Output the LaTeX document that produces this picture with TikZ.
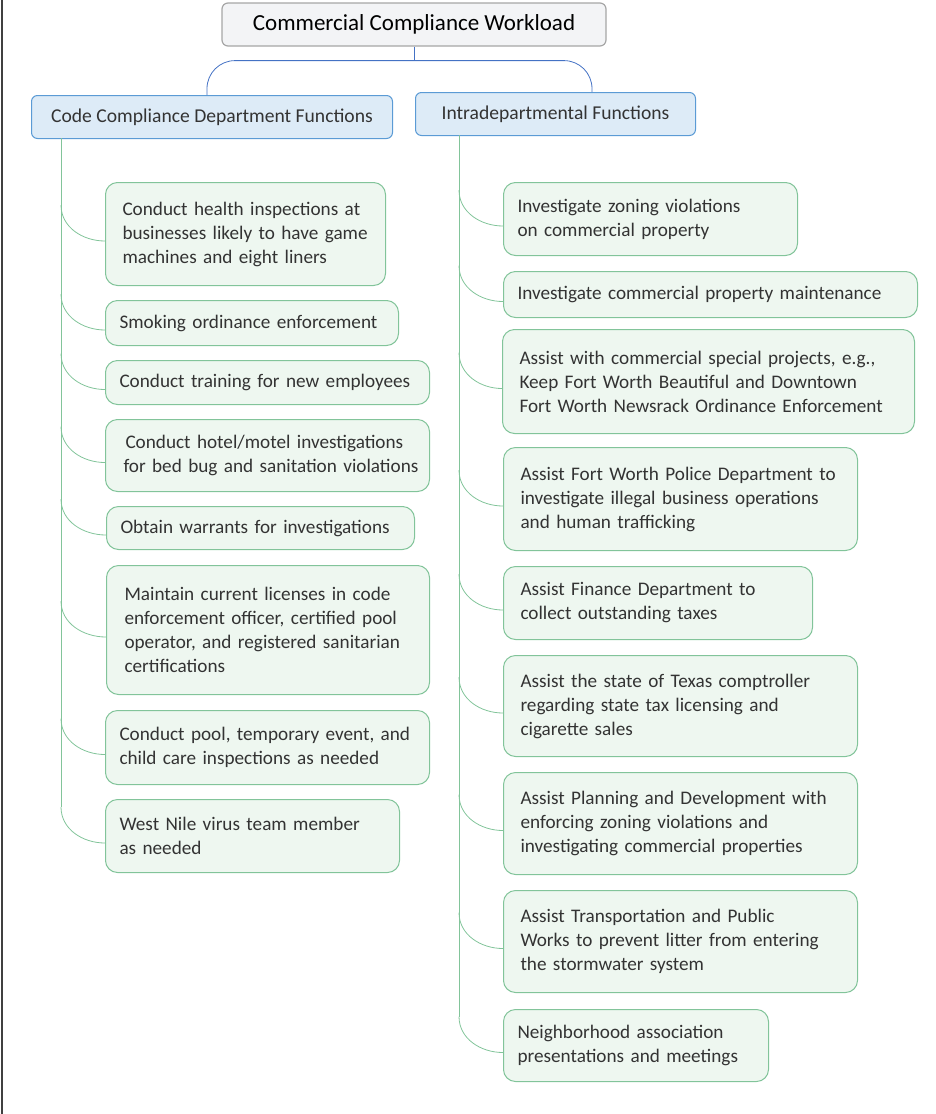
\documentclass[tikz,border=0pt]{standalone}
\usepackage{fontspec}
\setmainfont{Carlito}
\usetikzlibrary{calc}

\definecolor{leafline}{HTML}{82C49A}
\definecolor{leaffill}{HTML}{EEF7F0}
\definecolor{headline}{HTML}{5B9BD5}
\definecolor{headfill}{HTML}{DDEBF7}
\definecolor{rootline}{HTML}{A6A6A6}
\definecolor{rootfill}{HTML}{F3F4F6}
\definecolor{ink}{HTML}{333333}
\definecolor{branch}{HTML}{4472C4}

\tikzset{
	root/.style={draw=rootline, fill=rootfill, rounded corners=6pt, line width=1.2pt, inner sep=0pt, font=\fontsize{23}{27}\selectfont, text=black},
	head/.style={draw=headline, fill=headfill, rounded corners=6pt, line width=1pt, inner sep=0pt, anchor=north west, font=\fontsize{19.6}{23}\selectfont, text=ink},
	leaf/.style={draw=leafline, fill=leaffill, rounded corners=12pt, line width=1pt, anchor=north west, align=left, inner xsep=14pt, inner ysep=0pt, font=\fontsize{19.2}{24}\selectfont, text=ink},
	twig/.style={draw=leafline, line width=0.8pt},
	bracket/.style={draw=branch, line width=0.8pt},
}

\begin{document}
\begin{tikzpicture}[x=1pt,y=-1pt]
	\useasboundingbox (0,0) rectangle (935,1114);
	\draw[black!75, line width=1.5pt] (2,0) -- (2,1114);
	% top of the tree
	\node[root, minimum width=384, minimum height=43] (top) at (414,24.5) {Commercial Compliance Workload};
	\node[head, minimum width=361, minimum height=43] (hl) at (31,95) {Code Compliance Department Functions};
	\node[head, minimum width=280, minimum height=43] (hr) at (415,92) {Intradepartmental Functions};
	\coordinate (bl) at (207,95);
	\coordinate (br) at (592,92);
	\draw[bracket] (top.south) -- ++(0,14);
	\draw[bracket, rounded corners=28pt] (bl) |- ($(top.south)+(0,14)$) -| (br);
	\coordinate (lt) at (61,138);
	\coordinate (rt) at (459,135);
	% left column
	\node[leaf, text width=252, minimum height=103] (c1) at (105,182) {\hspace{3pt}Conduct health inspections at\\\hspace{3pt}businesses likely to have game\\\hspace{3pt}machines and eight liners};
	\node[leaf, text width=265, minimum height=45] (c2) at (105,300) {Smoking ordinance enforcement};
	\node[leaf, text width=296, minimum height=44] (c3) at (105,360) {Conduct training for new employees};
	\node[leaf, text width=296, minimum height=72] (c4) at (105,419) {\hspace{6pt}Conduct hotel/motel investigations\\\mbox{\hspace{4pt}for bed bug and sanitation violations}};
	\node[leaf, text width=280, minimum height=43] (c5) at (106,506) {Obtain warrants for investigations};
	\node[leaf, text width=295, minimum height=129] (c6) at (106,565) {\hspace{4pt}Maintain current licenses in code\\\hspace{4pt}enforcement officer, certified pool\\\hspace{4pt}operator, and registered sanitarian\\\hspace{4pt}certifications};
	\node[leaf, text width=296, minimum height=74] (c7) at (105,710) {Conduct pool, temporary event, and\\child care inspections as needed};
	\node[leaf, text width=266, minimum height=73] (c8) at (105,799) {West Nile virus team member\\as needed};
	% right column
	\node[leaf, text width=266, minimum height=73] (d1) at (503,182) {Investigate zoning violations\\on commercial property};
	\node[leaf, text width=386, minimum height=46] (d2) at (503,271) {Investigate commercial property maintenance};
	\node[leaf, text width=384, minimum height=104] (d3) at (502,329) {\hspace{3pt}Assist with commercial special projects, e.g.,\\\hspace{3pt}Keep Fort Worth Beautiful and Downtown\\\hspace{3pt}Fort Worth Newsrack Ordinance Enforcement};
	\node[leaf, text width=326, minimum height=103] (d4) at (503,447) {\hspace{3pt}Assist Fort Worth Police Department to\\\hspace{3pt}investigate illegal business operations\\\hspace{3pt}and human trafficking};
	\node[leaf, text width=281, minimum height=73] (d5) at (503,566) {\hspace{3pt}Assist Finance Department to\\\hspace{3pt}collect outstanding taxes};
	\node[leaf, text width=326, minimum height=101] (d6) at (503,655) {\hspace{3pt}Assist the state of Texas comptroller\\\hspace{3pt}regarding state tax licensing and\\\hspace{3pt}cigarette sales};
	\node[leaf, text width=326, minimum height=102] (d7) at (503,772) {\hspace{3pt}Assist Planning and Development with\\\hspace{3pt}enforcing zoning violations and\\\hspace{3pt}investigating commercial properties};
	\node[leaf, text width=326, minimum height=102] (d8) at (503,890) {\hspace{3pt}Assist Transportation and Public\\\hspace{3pt}Works to prevent litter from entering\\\hspace{3pt}the stormwater system};
	\node[leaf, text width=237, minimum height=72] (d9) at (503,1009) {Neighborhood association\\presentations and meetings};
	% connectors
	\draw[twig] (lt) -- ($(lt |- c8.west)+(0,-29)$);
	\foreach \i in {1,...,8}
		\draw[twig] ($(lt |- c\i.west)+(0,-29)$) to[out=-90,in=180] ([yshift=-7pt]c\i.west);
	\draw[twig] (rt) -- ($(rt |- d9.west)+(0,-29)$);
	\foreach \i in {1,...,9}
		\draw[twig] ($(rt |- d\i.west)+(0,-29)$) to[out=-90,in=180] ([yshift=-7pt]d\i.west);
\end{tikzpicture}
\end{document}
